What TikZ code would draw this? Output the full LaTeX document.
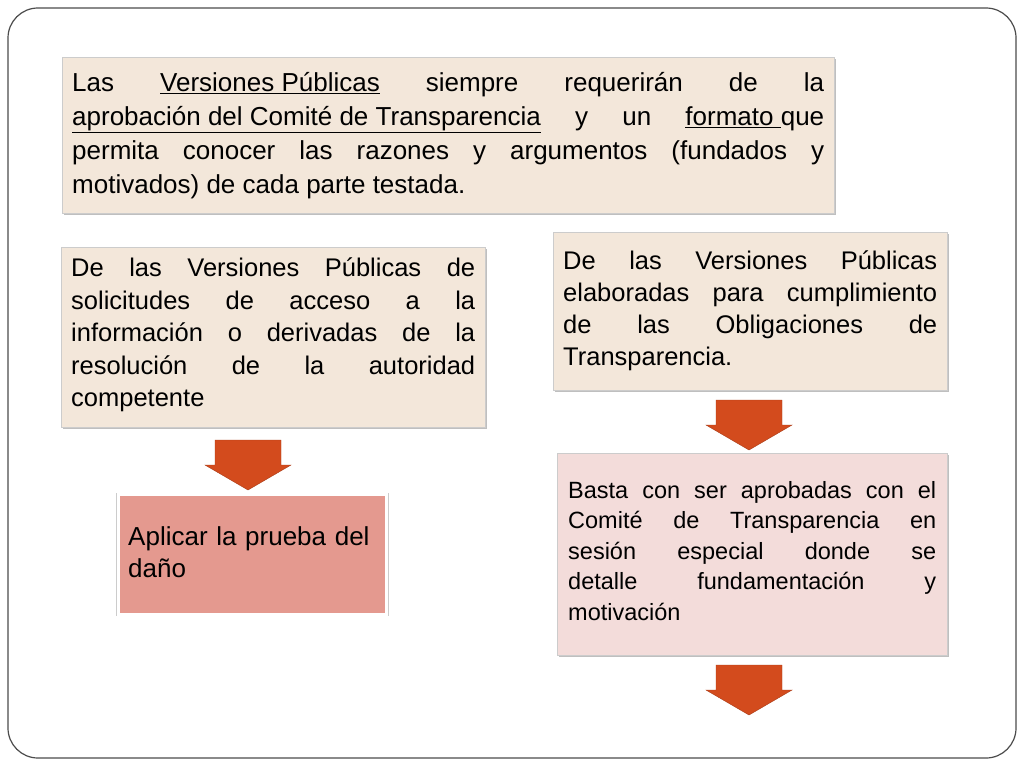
\documentclass[tikz,border=0pt]{standalone}
\usepackage{fontspec}
\setmainfont{Liberation Sans}
\usetikzlibrary{shadows}
\definecolor{beige}{HTML}{F3E7DA}
\definecolor{pinkl}{HTML}{F3DCDA}
\definecolor{pinkd}{HTML}{E4998F}
\definecolor{arr}{HTML}{D34B1D}
\begin{document}
\begin{tikzpicture}[x=1pt,y=-1pt,
  tbox/.style={draw=black!20,fill=beige,drop shadow={shadow xshift=2pt,shadow yshift=-2pt,opacity=.5},anchor=north west,inner sep=0pt,align=justify},
  darr/.style={fill=arr,draw=arr!80!black}]
\useasboundingbox (0,0) rectangle (1024,768);
\fill[white] (0,0) rectangle (1024,768);
\draw[black!70,line width=1.2pt,rounded corners=30pt] (8,8) rectangle (1016,758);
% top
\node[tbox,minimum width=772pt,minimum height=156pt] (top) at (62,57) {};
\node[anchor=north west,text width=752pt,align=justify,font=\fontsize{26}{34}\selectfont,inner sep=0pt] (toptxt) at (72,72)
{Las \underline{Versiones Públicas} siempre requerirán de la\linebreak \underline{aprobación del Comité de Transparencia} y un \underline{formato }que\linebreak permita conocer las razones y argumentos (fundados y\linebreak motivados) de cada parte testada.};
% left
\node[tbox,minimum width=424pt,minimum height=180pt] (left) at (61,247) {};
\node[anchor=north west,text width=404pt,align=justify,font=\fontsize{25.5}{32.5}\selectfont,inner sep=0pt] (lefttxt) at (71,258)
{De las Versiones Públicas de\linebreak solicitudes de acceso a la\linebreak información o derivadas de la\linebreak resolución de la autoridad\linebreak competente};
% right
\node[tbox,minimum width=394pt,minimum height=158pt] (right) at (553,232) {};
\node[anchor=north west,text width=374pt,align=justify,font=\fontsize{25.5}{32}\selectfont,inner sep=0pt] (righttxt) at (563,251)
{De las Versiones Públicas\linebreak elaboradas para cumplimiento\linebreak de las Obligaciones de\linebreak Transparencia.};
% pink dark
\node[anchor=north west,minimum width=268pt,minimum height=120pt,fill=pinkd,draw=white,line width=3pt,drop shadow={shadow xshift=0pt,shadow yshift=0pt,opacity=.4,shadow scale=1.02}] (pd) at (117,493) {};
\node[anchor=north west,text width=255pt,font=\fontsize{26}{32}\selectfont,inner sep=0pt,align=left] (pdtxt) at (128,526) {Aplicar la prueba del\\daño};
% pink light
\node[tbox,fill=pinkl,minimum width=390pt,minimum height=202pt] (pl) at (557,453) {};
\node[anchor=north west,text width=368pt,align=justify,font=\fontsize{23.5}{30.5}\selectfont,inner sep=0pt] (pltxt) at (568,481)
{Basta con ser aprobadas con el\linebreak Comité de Transparencia en\linebreak sesión especial donde se\linebreak detalle fundamentación y\linebreak motivación};
% arrows
\foreach \n/\x/\y in {a1/248/440,a2/749/400,a3/749/665}{
  \draw[darr] (\x-33,\y) -- (\x+33,\y) -- (\x+33,\y+25) -- (\x+43,\y+25) -- (\x,\y+50) -- (\x-43,\y+25) -- (\x-33,\y+25) -- cycle;
}
\end{tikzpicture}
\end{document}
